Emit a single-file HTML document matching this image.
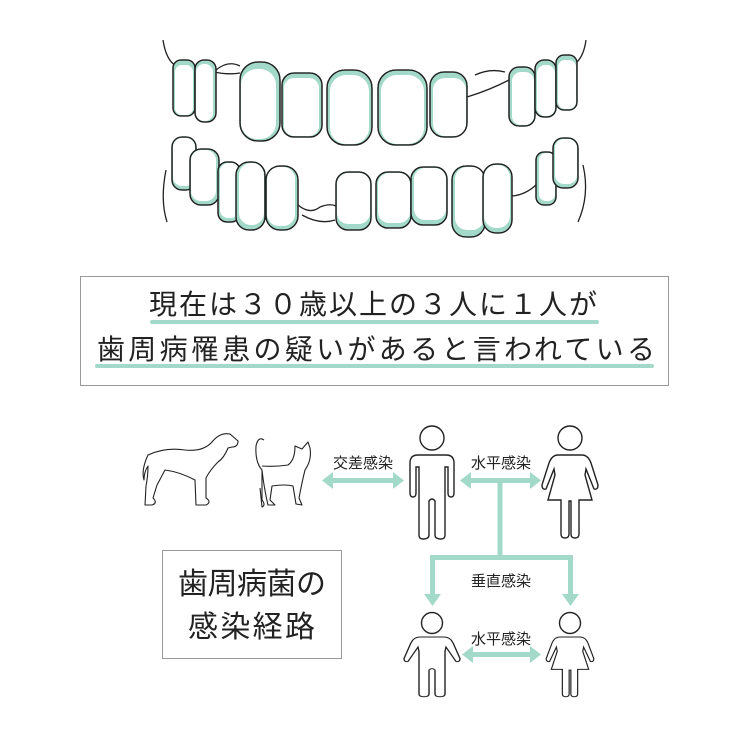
<!DOCTYPE html>
<html><head><meta charset="utf-8"><style>
html,body{margin:0;padding:0;background:#fff;}
svg{display:block;font-family:"Liberation Sans","Noto Sans CJK JP",sans-serif;}
</style></head><body>
<svg width="750" height="750" viewBox="0 0 750 750" xmlns="http://www.w3.org/2000/svg">
<!-- gum arcs -->
<g fill="none" stroke="#222" stroke-width="1.3">
<path d="M163,40 Q166,60 176,66"/>
<path d="M586,40 Q584,55 577,62"/>
<path d="M166,170 Q160,200 167,222"/>
<path d="M583,165 Q590,195 578,222"/>
<path d="M216,70 Q228,60 240,66 M214,72 Q228,75 240,73"/>
<path d="M467,97 Q490,90 509,80 M475,75 Q490,68 505,72"/>
<path d="M298,205 Q310,215 320,207 Q330,203 336,206"/>
<path d="M302,215 Q320,225 335,220"/>
<path d="M512,196 Q525,195 536,185"/>
</g>
<!-- upper teeth -->
<g stroke="#222" stroke-width="1.3">
<g><rect x="173" y="60" width="22" height="56" rx="8" fill="#a3d9c9"/><rect x="175" y="65" width="18" height="50" rx="7" fill="#fff" stroke="none"/><rect x="173" y="60" width="22" height="56" rx="8" fill="none"/></g>
<g><rect x="195" y="60" width="21" height="62" rx="9" fill="#a3d9c9"/><rect x="196" y="64" width="17" height="57" rx="8" fill="#fff" stroke="none"/><rect x="195" y="60" width="21" height="62" rx="9" fill="none"/></g>
<g><rect x="240" y="62" width="40" height="79" rx="18" fill="#a3d9c9"/><rect x="241" y="69" width="35" height="70" rx="16" fill="#fff" stroke="none"/><rect x="240" y="62" width="40" height="79" rx="18" fill="none"/></g>
<g><rect x="282" y="73" width="40" height="64" rx="12" fill="#a3d9c9"/><rect x="284" y="78" width="35" height="58" rx="10" fill="#fff" stroke="none"/><rect x="282" y="73" width="40" height="64" rx="12" fill="none"/></g>
<g><rect x="327" y="70" width="45" height="75" rx="18" fill="#a3d9c9"/><rect x="330" y="75" width="39" height="69" rx="16" fill="#fff" stroke="none"/><rect x="327" y="70" width="45" height="75" rx="18" fill="none"/></g>
<g><rect x="378" y="70" width="49" height="75" rx="18" fill="#a3d9c9"/><rect x="381" y="75" width="43" height="69" rx="16" fill="#fff" stroke="none"/><rect x="378" y="70" width="49" height="75" rx="18" fill="none"/></g>
<g><rect x="430" y="72" width="37" height="65" rx="14" fill="#a3d9c9"/><rect x="433" y="78" width="33" height="58" rx="12" fill="#fff" stroke="none"/><rect x="430" y="72" width="37" height="65" rx="14" fill="none"/></g>
<g><rect x="509" y="67" width="26" height="59" rx="10" fill="#a3d9c9"/><rect x="512" y="72" width="22" height="53" rx="9" fill="#fff" stroke="none"/><rect x="509" y="67" width="26" height="59" rx="10" fill="none"/></g>
<g><rect x="535" y="60" width="21" height="57" rx="9" fill="#a3d9c9"/><rect x="537" y="65" width="18" height="51" rx="8" fill="#fff" stroke="none"/><rect x="535" y="60" width="21" height="57" rx="9" fill="none"/></g>
<g><rect x="556" y="55" width="21" height="55" rx="8" fill="#a3d9c9"/><rect x="558" y="60" width="18" height="49" rx="7" fill="#fff" stroke="none"/><rect x="556" y="55" width="21" height="55" rx="8" fill="none"/></g>
</g>
<!-- lower teeth -->
<g stroke="#222" stroke-width="1.3">
<g><rect x="172" y="137" width="24" height="53" rx="10" fill="#a3d9c9"/><rect x="173" y="138" width="22" height="48" rx="9" fill="#fff" stroke="none"/><rect x="172" y="137" width="24" height="53" rx="10" fill="none"/></g>
<g><rect x="190" y="149" width="29" height="56" rx="11" fill="#a3d9c9"/><rect x="191" y="150" width="25" height="51" rx="10" fill="#fff" stroke="none"/><rect x="190" y="149" width="29" height="56" rx="11" fill="none"/></g>
<g><rect x="218" y="162" width="22" height="60" rx="9" fill="#a3d9c9"/><rect x="220" y="163" width="19" height="55" rx="8" fill="#fff" stroke="none"/><rect x="218" y="162" width="22" height="60" rx="9" fill="none"/></g>
<g><rect x="236" y="162" width="29" height="68" rx="13" fill="#a3d9c9"/><rect x="239" y="163" width="25" height="62" rx="12" fill="#fff" stroke="none"/><rect x="236" y="162" width="29" height="68" rx="13" fill="none"/></g>
<g><rect x="266" y="166" width="32" height="64" rx="14" fill="#a3d9c9"/><rect x="267" y="167" width="28" height="59" rx="12" fill="#fff" stroke="none"/><rect x="266" y="166" width="32" height="64" rx="14" fill="none"/></g>
<g><rect x="336" y="172" width="35" height="58" rx="12" fill="#a3d9c9"/><rect x="337" y="173" width="33" height="51" rx="11" fill="#fff" stroke="none"/><rect x="336" y="172" width="35" height="58" rx="12" fill="none"/></g>
<g><rect x="376" y="172" width="35" height="56" rx="12" fill="#a3d9c9"/><rect x="378" y="173" width="32" height="50" rx="11" fill="#fff" stroke="none"/><rect x="376" y="172" width="35" height="56" rx="12" fill="none"/></g>
<g><rect x="411" y="167" width="36" height="58" rx="12" fill="#a3d9c9"/><rect x="414" y="168" width="32" height="52" rx="11" fill="#fff" stroke="none"/><rect x="411" y="167" width="36" height="58" rx="12" fill="none"/></g>
<g><rect x="452" y="166" width="33" height="71" rx="14" fill="#a3d9c9"/><rect x="455" y="167" width="29" height="63" rx="12" fill="#fff" stroke="none"/><rect x="452" y="166" width="33" height="71" rx="14" fill="none"/></g>
<g><rect x="483" y="164" width="29" height="69" rx="13" fill="#a3d9c9"/><rect x="484" y="165" width="26" height="63" rx="12" fill="#fff" stroke="none"/><rect x="483" y="164" width="29" height="69" rx="13" fill="none"/></g>
<g><rect x="536" y="152" width="20" height="53" rx="8" fill="#a3d9c9"/><rect x="539" y="153" width="16" height="48" rx="7" fill="#fff" stroke="none"/><rect x="536" y="152" width="20" height="53" rx="8" fill="none"/></g>
<g><rect x="553" y="138" width="25" height="50" rx="10" fill="#a3d9c9"/><rect x="555" y="139" width="22" height="45" rx="9" fill="#fff" stroke="none"/><rect x="553" y="138" width="25" height="50" rx="10" fill="none"/></g>
</g>

<!-- statistic box -->
<rect x="80.5" y="276.5" width="588" height="109" fill="#fff" stroke="#999" stroke-width="1"/>
<line x1="152" y1="322" x2="597" y2="322" stroke="#a3d9c9" stroke-width="4" stroke-linecap="round"/>
<line x1="97" y1="366" x2="652" y2="366" stroke="#a3d9c9" stroke-width="4" stroke-linecap="round"/>
<text x="149" y="314" font-size="28" fill="#222" textLength="448" lengthAdjust="spacing">現在は３０歳以上の３人に１人が</text>
<text x="97" y="359" font-size="28" fill="#222" textLength="558" lengthAdjust="spacing">歯周病罹患の疑いがあると言われている</text>

<!-- lower box -->
<rect x="162.5" y="550.5" width="179" height="108" fill="#fff" stroke="#999" stroke-width="1"/>
<text x="178" y="594" font-size="30" fill="#222" textLength="148" lengthAdjust="spacing">歯周病菌の</text>
<text x="188" y="637" font-size="30" fill="#222" textLength="127" lengthAdjust="spacing">感染経路</text>

<!-- arrows -->
<g fill="#a3d9c9" stroke="none">
<rect x="330" y="478" width="66" height="5"/>
<polygon points="322,480.5 333,472 333,489"/>
<polygon points="404,480.5 393,472 393,489"/>
<rect x="468" y="478" width="64" height="5"/>
<polygon points="460,480.5 471,472 471,489"/>
<polygon points="541,480.5 530,472 530,489"/>
<rect x="497.5" y="480" width="5" height="80"/>
<rect x="430" y="555" width="143" height="5"/>
<rect x="430" y="555" width="5" height="42"/>
<rect x="568" y="555" width="5" height="42"/>
<polygon points="432.5,606 424,594 441,594"/>
<polygon points="570.5,606 562,594 579,594"/>
<rect x="470" y="652" width="62" height="5"/>
<polygon points="462,654.5 473,646 473,663"/>
<polygon points="541,654.5 530,646 530,663"/>
</g>
<g font-size="15" fill="#222" text-anchor="middle">
<text x="363" y="468">交差感染</text>
<text x="501" y="468">水平感染</text>
<text x="501" y="586">垂直感染</text>
<text x="501" y="644">水平感染</text>
</g>

<!-- people -->
<g fill="#fff" stroke="#222" stroke-width="1.4">
<circle cx="432" cy="438" r="12"/>
<path transform="translate(432,455)" d="M-22,8 Q-22,0 -14,0 L14,0 Q22,0 22,8 L22,38 Q22,42 19,42 Q16,42 16,38 L16,12 L13,12 L13,80 Q13,84 9,84 Q3,84 3,80 L3,46 Q0,42 -3,46 L-3,80 Q-3,84 -9,84 Q-13,84 -13,80 L-13,12 L-16,12 L-16,38 Q-16,42 -19,42 Q-22,42 -22,38 Z"/>
<circle cx="570" cy="438" r="12"/>
<path transform="translate(570,455)" d="M-12,0 L12,0 Q18,0 21,8 L28,30 Q28,35 24,34 L16,14 L15,20 L22,45 L9,45 L9,79 Q9,83 5,83 Q1,83 1,79 L1,46 L-1,46 L-1,79 Q-1,83 -5,83 Q-9,83 -9,79 L-9,45 L-22,45 L-15,20 L-16,14 L-24,34 Q-28,35 -28,30 L-21,8 Q-18,0 -12,0 Z"/>
<circle cx="432" cy="623" r="10.5"/>
<path transform="translate(432,637) scale(1,0.72)" d="M-12,0 L12,0 Q18,0 21,8 L28,30 Q28,35 24,34 L14,14 L13,20 L13,79 Q13,83 8,83 Q3,83 3,79 L3,46 Q0,42 -3,46 L-3,79 Q-3,83 -8,83 Q-13,83 -13,79 L-13,20 L-14,14 L-24,34 Q-28,35 -28,30 L-21,8 Q-18,0 -12,0 Z"/>
<circle cx="570" cy="623" r="10.5"/>
<path transform="translate(570,637) scale(0.85,0.72)" d="M-12,0 L12,0 Q18,0 21,8 L28,30 Q28,35 24,34 L16,14 L15,20 L22,45 L9,45 L9,79 Q9,83 5,83 Q1,83 1,79 L1,46 L-1,46 L-1,79 Q-1,83 -5,83 Q-9,83 -9,79 L-9,45 L-22,45 L-15,20 L-16,14 L-24,34 Q-28,35 -28,30 L-21,8 Q-18,0 -12,0 Z"/>
</g>

<!-- dog & cat -->
<g fill="none" stroke="#222" stroke-width="1.1" stroke-linejoin="round">
<path d="M148,455 Q165,447 185,450 Q203,452 212,442 Q220,432 230,434 L238,441 Q238,447 232,447 L228,448 Q224,458 218,462 Q210,470 206,478 L206,498 Q212,502 206,505 L196,505 L195,480 Q180,472 165,470 L157,485 L153,498 Q158,503 152,505 L145,505 L146,486 Q148,476 148,466 Q144,472 144,480 Q141,470 148,455 Z"/>
<path d="M264,440 Q258,436 256,446 Q255,462 262,470 L262,500 Q266,505 262,507 L260,488 M262,470 Q264,488 268,505 L275,505 L270,500 L272,486 Q285,484 293,486 L296,504 L302,505 L299,498 Q302,482 305,470 Q312,460 310,448 L308,442 L302,449 L295,446 Q295,460 288,465 Q275,467 262,466"/>
</g>
</svg>
</body></html>
